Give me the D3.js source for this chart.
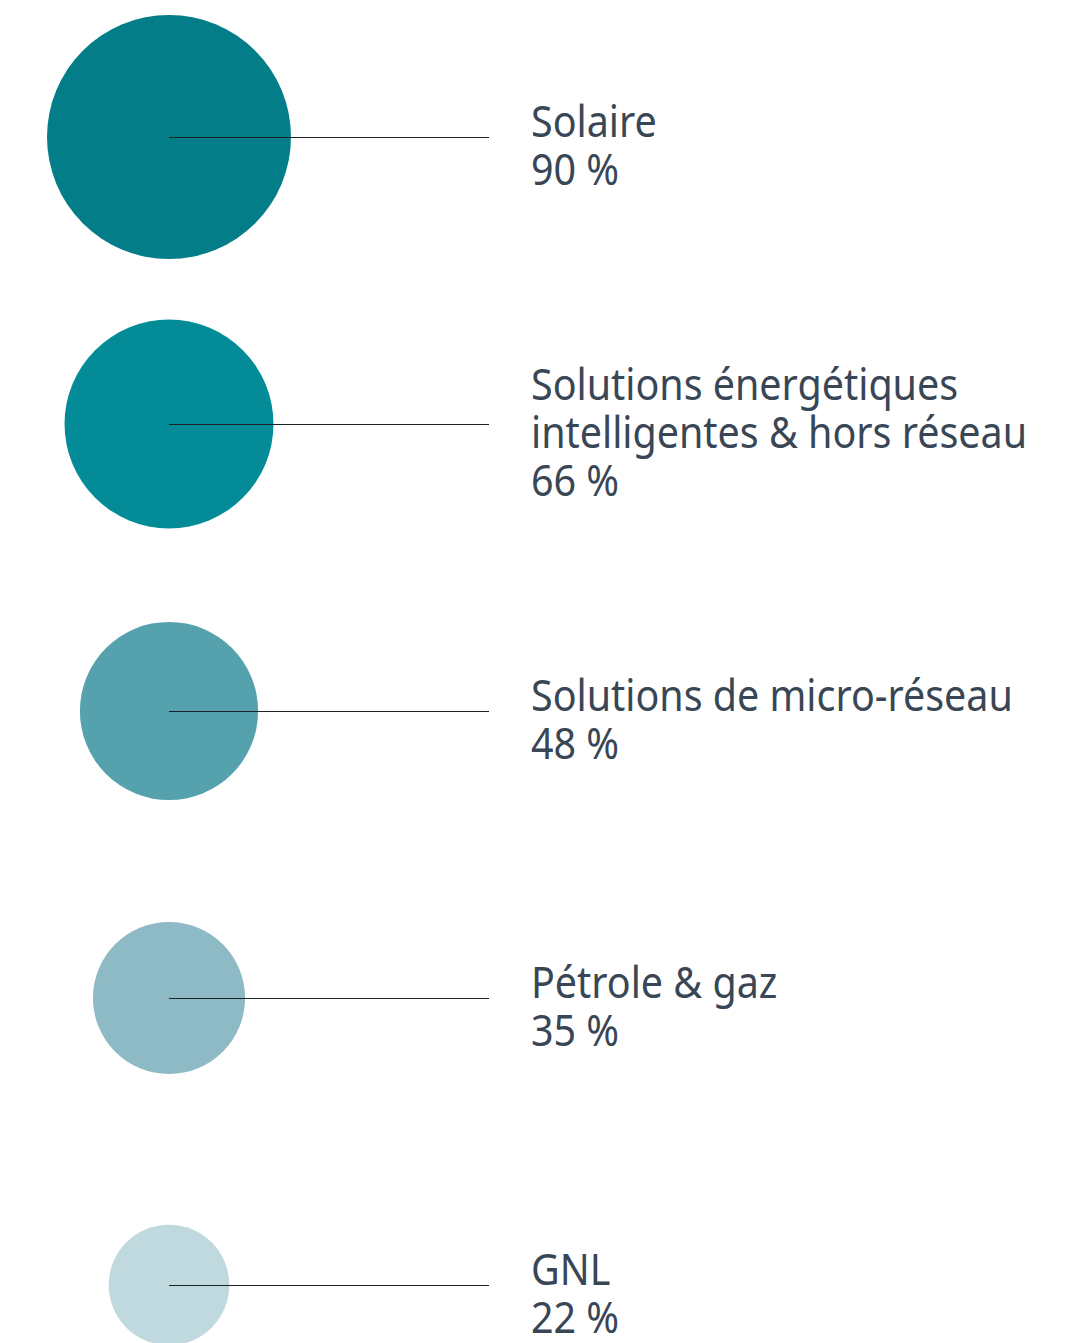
<!DOCTYPE html>
<html>
<head>
<meta charset="utf-8">
<script src="https://cdn.jsdelivr.net/npm/d3@7"></script>
<style>
  html, body { margin: 0; padding: 0; background: #ffffff; }
  svg { display: block; }
</style>
</head>
<body>
<div id="chart"></div>
<script>
// ---- data ----
const categories = [
  "Solaire",
  "Solutions énergétiques\nintelligentes & hors réseau",
  "Solutions de micro-réseau",
  "Pétrole & gaz",
  "GNL"
];
const values = [90, 66, 48, 35, 22];
const valueLabels = ["90 %", "66 %", "48 %", "35 %", "22 %"];
const colors = ["#037d88", "#038c98", "#55a2ae", "#8dbac5", "#bfd9df"];

// ---- layout ----
const W = 1077, H = 1343;
const cx = 169, lineEnd = 489, textX = 531;
const fontSize = 44, lineH = 48;

const svg = d3.select("#chart").append("svg")
  .attr("width", W).attr("height", H);

const y = d3.scalePoint().domain(categories).range([137, 1285]);
const r = d3.scaleSqrt().domain([0, 90]).range([0, 122]);

const rows = svg.selectAll("g.row")
  .data(categories.map((c, i) => ({ c, v: values[i], lab: valueLabels[i], col: colors[i] })))
  .join("g").attr("class", "row");

rows.append("circle")
  .attr("cx", cx)
  .attr("cy", d => y(d.c))
  .attr("r", d => r(d.v))
  .attr("fill", d => d.col);

rows.append("line")
  .attr("x1", cx).attr("x2", lineEnd)
  .attr("y1", d => Math.round(y(d.c)) + 0.5).attr("y2", d => Math.round(y(d.c)) + 0.5)
  .attr("stroke", "#1c2126").attr("stroke-width", 1);

const texts = rows.append("text")
  .attr("font-family", "'Noto Sans', 'Open Sans', sans-serif")
  .attr("font-size", fontSize)
  .attr("fill", "#384655");

texts.each(function(d) {
  const lines = d.c.split("\n").concat([d.lab]);
  const n = lines.length;
  const first = y(d.c) + 24 - (n - 1) * 24;
  const t = d3.select(this);
  lines.forEach((s, k) => {
    t.append("tspan").attr("x", 0).attr("y", first + k * lineH).text(s);
  });
});

// horizontal compression to match the narrow face of the original
let refW = 0;
texts.selectAll("tspan").each(function() {
  if (this.textContent === "Solutions de micro-réseau") refW = this.getComputedTextLength();
});
const sx = refW > 0 ? 482 / refW : 0.87;
texts.attr("transform", `translate(${textX},0) scale(${sx},1)`);
</script>
</body>
</html>
